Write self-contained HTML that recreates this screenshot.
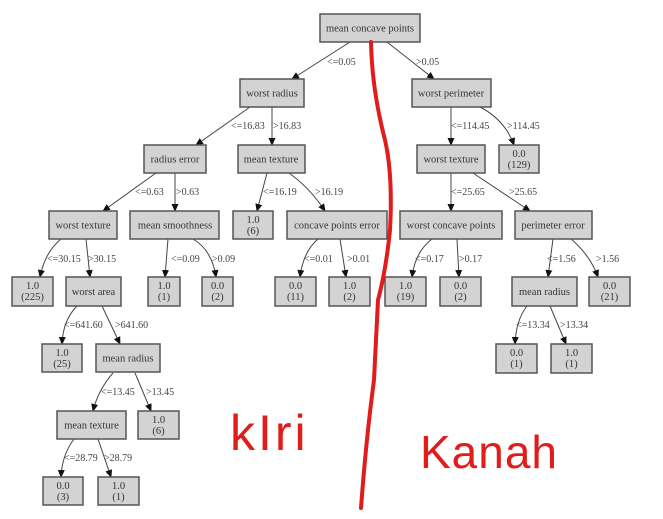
<!DOCTYPE html>
<html><head><meta charset="utf-8"><style>
html,body{margin:0;padding:0;background:#fff;}
svg{display:block;}
.b{fill:#d3d3d3;stroke:#555;stroke-width:1.5;}
.t{font-family:"Liberation Serif",serif;font-size:10.5px;fill:#333;text-anchor:middle;}
.l{font-family:"Liberation Serif",serif;font-size:10px;fill:#444;}
.e{stroke:#444;stroke-width:1;fill:none;marker-end:url(#a);}
</style></head><body>
<svg width="663" height="519" viewBox="0 0 663 519" xmlns="http://www.w3.org/2000/svg">
<defs><marker id="a" markerWidth="8" markerHeight="8" refX="7" refY="4" orient="auto" markerUnits="userSpaceOnUse"><path d="M0,0.5 L8,4 L0,7.5z" fill="#111"/></marker></defs>
<g>
<path class="e" d="M350,42 L292,79"/><path class="e" d="M387,42 L434,79"/>
<path class="e" d="M250,107 L196,145"/><path class="e" d="M272,107 L272,145"/>
<path class="e" d="M451,107 L451,145"/><path class="e" d="M480,107 Q505,120 514,145"/>
<path class="e" d="M156,173 L103,211"/><path class="e" d="M175,173 L175,211"/>
<path class="e" d="M267,173 L257,211"/><path class="e" d="M289,173 Q310,188 325,211"/>
<path class="e" d="M451,173 L451,211"/><path class="e" d="M473,173 L530,211"/>
<path class="e" d="M61,239 Q45,252 40,277"/><path class="e" d="M86,239 L90,277"/>
<path class="e" d="M168,239 L165,277"/><path class="e" d="M193,239 Q212,250 216,277"/>
<path class="e" d="M318,239 Q303,252 300,277"/><path class="e" d="M340,239 L346,277"/>
<path class="e" d="M432,239 Q415,252 412,277"/><path class="e" d="M457,239 L459,277"/>
<path class="e" d="M553,239 L548,277"/><path class="e" d="M571,239 Q590,255 598,277"/>
<path class="e" d="M77,306 Q63,320 62,344"/><path class="e" d="M102,306 L120,344"/>
<path class="e" d="M527,306 Q516,320 515,344"/><path class="e" d="M550,306 L566,344"/>
<path class="e" d="M113,373 Q98,390 93,411"/><path class="e" d="M135,373 L151,411"/>
<path class="e" d="M74,439 Q62,455 61,477"/><path class="e" d="M98,439 L111,477"/>
</g>
<g class="l">
<text x="327" y="65">&lt;=0.05</text><text x="416" y="65">&gt;0.05</text>
<text x="231" y="129">&lt;=16.83</text><text x="273" y="129">&gt;16.83</text>
<text x="451" y="129">&lt;=114.45</text><text x="507" y="129">&gt;114.45</text>
<text x="135" y="195">&lt;=0.63</text><text x="176" y="195">&gt;0.63</text>
<text x="263" y="195">&lt;=16.19</text><text x="315" y="195">&gt;16.19</text>
<text x="451" y="195">&lt;=25.65</text><text x="509" y="195">&gt;25.65</text>
<text x="47" y="262">&lt;=30.15</text><text x="88" y="262">&gt;30.15</text>
<text x="171" y="262">&lt;=0.09</text><text x="212" y="262">&gt;0.09</text>
<text x="304" y="262">&lt;=0.01</text><text x="347" y="262">&gt;0.01</text>
<text x="415" y="262">&lt;=0.17</text><text x="459" y="262">&gt;0.17</text>
<text x="547" y="262">&lt;=1.56</text><text x="596" y="262">&gt;1.56</text>
<text x="64" y="328">&lt;=641.60</text><text x="115" y="328">&gt;641.60</text>
<text x="516" y="328">&lt;=13.34</text><text x="560" y="328">&gt;13.34</text>
<text x="101" y="395">&lt;=13.45</text><text x="146" y="395">&gt;13.45</text>
<text x="64" y="461">&lt;=28.79</text><text x="104" y="461">&gt;28.79</text>
</g>
<g>
<rect class="b" x="320" y="14" width="100" height="28"/><text class="t" x="370" y="31.5">mean concave points</text>
<rect class="b" x="240" y="79" width="64" height="28"/><text class="t" x="272" y="96.5">worst radius</text>
<rect class="b" x="412" y="79" width="79" height="28"/><text class="t" x="451" y="96.5">worst perimeter</text>
<rect class="b" x="144" y="145" width="62" height="28"/><text class="t" x="175" y="162.5">radius error</text>
<rect class="b" x="238" y="145" width="67" height="28"/><text class="t" x="271" y="162.5">mean texture</text>
<rect class="b" x="417" y="145" width="68" height="28"/><text class="t" x="451" y="162.5">worst texture</text>
<rect class="b" x="499" y="145" width="40" height="28"/><text class="t" x="519" y="157">0.0</text><text class="t" x="519" y="168">(129)</text>
<rect class="b" x="49" y="211" width="68" height="28"/><text class="t" x="83" y="228.5">worst texture</text>
<rect class="b" x="130" y="211" width="89" height="28"/><text class="t" x="175" y="228.5">mean smoothness</text>
<rect class="b" x="233" y="211" width="40" height="28"/><text class="t" x="253" y="223">1.0</text><text class="t" x="253" y="234">(6)</text>
<rect class="b" x="287" y="211" width="100" height="28"/><text class="t" x="337" y="228.5">concave points error</text>
<rect class="b" x="400" y="211" width="102" height="28"/><text class="t" x="451" y="228.5">worst concave points</text>
<rect class="b" x="515" y="211" width="77" height="28"/><text class="t" x="553" y="228.5">perimeter error</text>
<rect class="b" x="12" y="277" width="41" height="29"/><text class="t" x="32.5" y="289">1.0</text><text class="t" x="32.5" y="300">(225)</text>
<rect class="b" x="66" y="277" width="55" height="29"/><text class="t" x="93.5" y="295">worst area</text>
<rect class="b" x="148" y="277" width="32" height="29"/><text class="t" x="164" y="289">1.0</text><text class="t" x="164" y="300">(1)</text>
<rect class="b" x="202" y="277" width="31" height="29"/><text class="t" x="217.5" y="289">0.0</text><text class="t" x="217.5" y="300">(2)</text>
<rect class="b" x="275" y="277" width="41" height="29"/><text class="t" x="295.5" y="289">0.0</text><text class="t" x="295.5" y="300">(11)</text>
<rect class="b" x="329" y="277" width="41" height="29"/><text class="t" x="349.5" y="289">1.0</text><text class="t" x="349.5" y="300">(2)</text>
<rect class="b" x="385" y="277" width="41" height="29"/><text class="t" x="405.5" y="289">1.0</text><text class="t" x="405.5" y="300">(19)</text>
<rect class="b" x="440" y="277" width="41" height="29"/><text class="t" x="460.5" y="289">0.0</text><text class="t" x="460.5" y="300">(2)</text>
<rect class="b" x="512" y="277" width="65" height="29"/><text class="t" x="544.5" y="295">mean radius</text>
<rect class="b" x="589" y="277" width="41" height="29"/><text class="t" x="609.5" y="289">0.0</text><text class="t" x="609.5" y="300">(21)</text>
<rect class="b" x="42" y="344" width="40" height="28"/><text class="t" x="62" y="356">1.0</text><text class="t" x="62" y="367">(25)</text>
<rect class="b" x="96" y="344" width="64" height="28"/><text class="t" x="128" y="361.5">mean radius</text>
<rect class="b" x="496" y="344" width="41" height="29"/><text class="t" x="516.5" y="356">0.0</text><text class="t" x="516.5" y="367">(1)</text>
<rect class="b" x="551" y="344" width="41" height="29"/><text class="t" x="571.5" y="356">1.0</text><text class="t" x="571.5" y="367">(1)</text>
<rect class="b" x="57" y="411" width="69" height="28"/><text class="t" x="91.5" y="428.5">mean texture</text>
<rect class="b" x="138" y="411" width="41" height="28"/><text class="t" x="158.5" y="423">1.0</text><text class="t" x="158.5" y="434">(6)</text>
<rect class="b" x="43" y="477" width="40" height="28"/><text class="t" x="63" y="489">0.0</text><text class="t" x="63" y="500">(3)</text>
<rect class="b" x="98" y="477" width="41" height="28"/><text class="t" x="118.5" y="489">1.0</text><text class="t" x="118.5" y="500">(1)</text>
</g>
<path d="M371,42 Q372,90 385,140 Q393,175 390,230 Q386,270 378,300 L374,380 Q366,440 361,508" stroke="#e21b1b" stroke-width="4" fill="none" stroke-linecap="round"/>
<text x="230" y="450" font-family="Liberation Sans, sans-serif" font-size="50" fill="#e21b1b" letter-spacing="3">kIri</text>
<text x="420" y="468" font-family="Liberation Sans, sans-serif" font-size="46" fill="#e21b1b" letter-spacing="1">Kanah</text>
</svg>
</body></html>
